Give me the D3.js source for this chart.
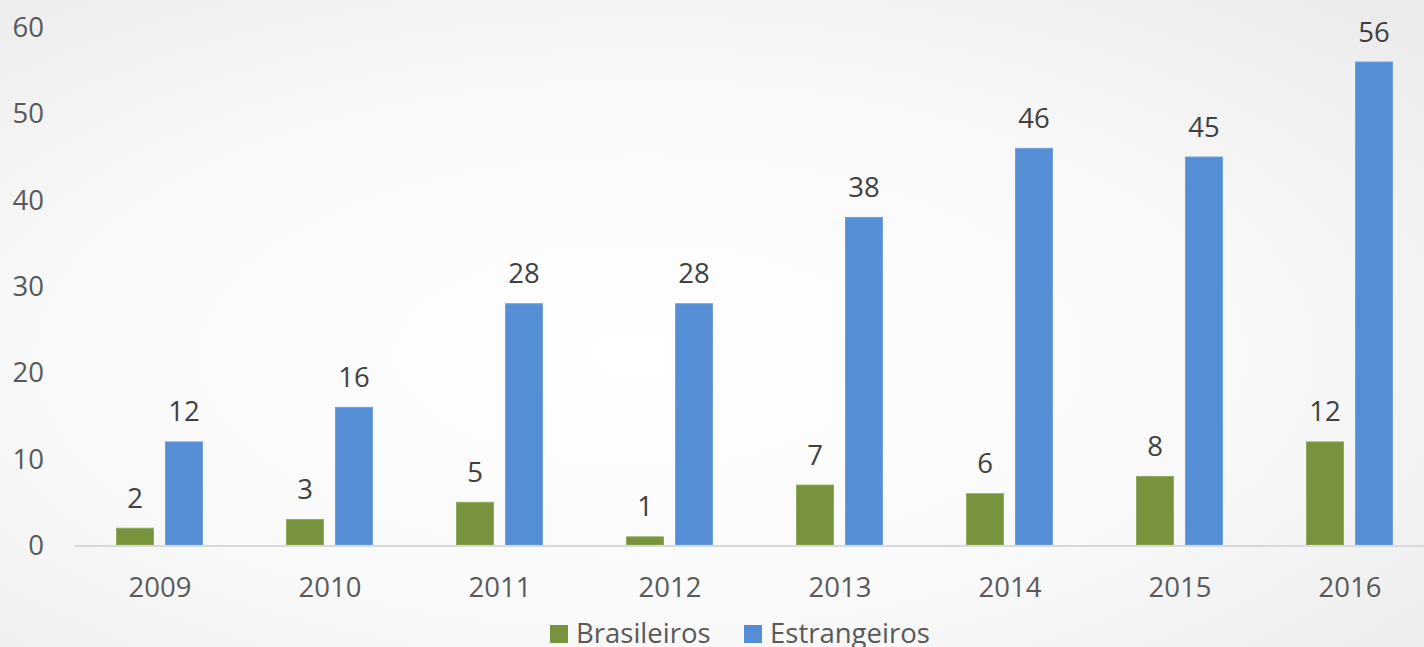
<!DOCTYPE html>
<html>
<head>
<meta charset="utf-8">
<script src="https://cdn.jsdelivr.net/npm/d3@7"></script>
<style>
  html, body { margin: 0; padding: 0; overflow: hidden; }
  svg { display: block; font-family: "Open Sans", sans-serif; }
</style>
</head>
<body>
<svg id="chart" width="1424" height="647"></svg>
<script>
// data
const years = ["2009", "2010", "2011", "2012", "2013", "2014", "2015", "2016"];
const brasileiros = [2, 3, 5, 1, 7, 6, 8, 12];
const estrangeiros = [12, 16, 28, 28, 38, 46, 45, 56];
const seriesNames = ["Brasileiros", "Estrangeiros"];
const seriesColors = ["#77933c", "#558ed5"];
const seriesEdges = ["#8fa85c", "#6f9fdc"];
const yTicks = [0, 10, 20, 30, 40, 50, 60];

const width = 1424, height = 647;
const svg = d3.select("#chart");

// soft gray background like the slide
const defs = svg.append("defs");
const grad = defs.append("radialGradient")
    .attr("id", "bg")
    .attr("cx", "45%").attr("cy", "55%").attr("r", "75%");
grad.append("stop").attr("offset", "0%").attr("stop-color", "#ffffff");
grad.append("stop").attr("offset", "55%").attr("stop-color", "#f9f9f9");
grad.append("stop").attr("offset", "100%").attr("stop-color", "#ebebeb");
svg.append("rect").attr("width", width).attr("height", height).attr("fill", "url(#bg)");

const x = d3.scaleBand()
    .domain(years)
    .range([75, 1435]);

const xInner = d3.scaleBand()
    .domain(seriesNames)
    .range([x.bandwidth() / 2 - 44, x.bandwidth() / 2 + 43])
    .paddingInner(0.224);

const y = d3.scaleLinear()
    .domain([0, 60])
    .range([545, 27]);

// y tick labels (no gridlines)
svg.append("g")
    .selectAll("text")
    .data(yTicks)
    .enter()
    .append("text")
    .attr("x", 44)
    .attr("y", d => y(d))
    .attr("dy", "0.36em")
    .attr("text-anchor", "end")
    .attr("font-size", "27.5px")
    .attr("fill", "#595959")
    .text(d => d);

// bars
const data = years.map((yr, i) => ({
    year: yr,
    values: [
        { name: seriesNames[0], value: brasileiros[i] },
        { name: seriesNames[1], value: estrangeiros[i] }
    ]
}));

const groups = svg.selectAll(".grp")
    .data(data)
    .enter()
    .append("g")
    .attr("class", "grp")
    .attr("transform", d => `translate(${x(d.year)},0)`);

groups.selectAll("rect")
    .data(d => d.values)
    .enter()
    .append("rect")
    .attr("x", d => xInner(d.name) + 0.5)
    .attr("y", d => y(d.value) + 0.5)
    .attr("width", xInner.bandwidth() - 1)
    .attr("height", d => y(0) - y(d.value) - 0.5)
    .attr("fill", (d, i) => seriesColors[i])
    .attr("stroke", (d, i) => seriesEdges[i])
    .attr("stroke-width", 1);

groups.selectAll("text")
    .data(d => d.values)
    .enter()
    .append("text")
    .attr("x", d => xInner(d.name) + xInner.bandwidth() / 2)
    .attr("y", d => y(d.value) - 20)
    .attr("text-anchor", "middle")
    .attr("font-size", "27.5px")
    .attr("fill", "#404040")
    .text(d => d.value);

// x axis line
svg.append("line")
    .attr("x1", 75).attr("x2", width)
    .attr("y1", y(0) + 1).attr("y2", y(0) + 1)
    .attr("stroke", "#d9d9d9")
    .attr("stroke-width", 2);

// x labels
svg.append("g")
    .selectAll("text")
    .data(years)
    .enter()
    .append("text")
    .attr("x", d => x(d) + x.bandwidth() / 2)
    .attr("y", 597)
    .attr("text-anchor", "middle")
    .attr("font-size", "27.5px")
    .attr("fill", "#595959")
    .text(d => d);

// legend
const legendX = [550, 744];
const legend = svg.selectAll(".leg")
    .data(seriesNames)
    .enter()
    .append("g")
    .attr("class", "leg")
    .attr("transform", (d, i) => `translate(${legendX[i]},625)`);

legend.append("rect")
    .attr("width", 18)
    .attr("height", 18)
    .attr("fill", (d, i) => seriesColors[i]);

legend.append("text")
    .attr("x", 26)
    .attr("y", 18)
    .attr("font-size", "27.5px")
    .attr("fill", "#595959")
    .text(d => d);
</script>
</body>
</html>
